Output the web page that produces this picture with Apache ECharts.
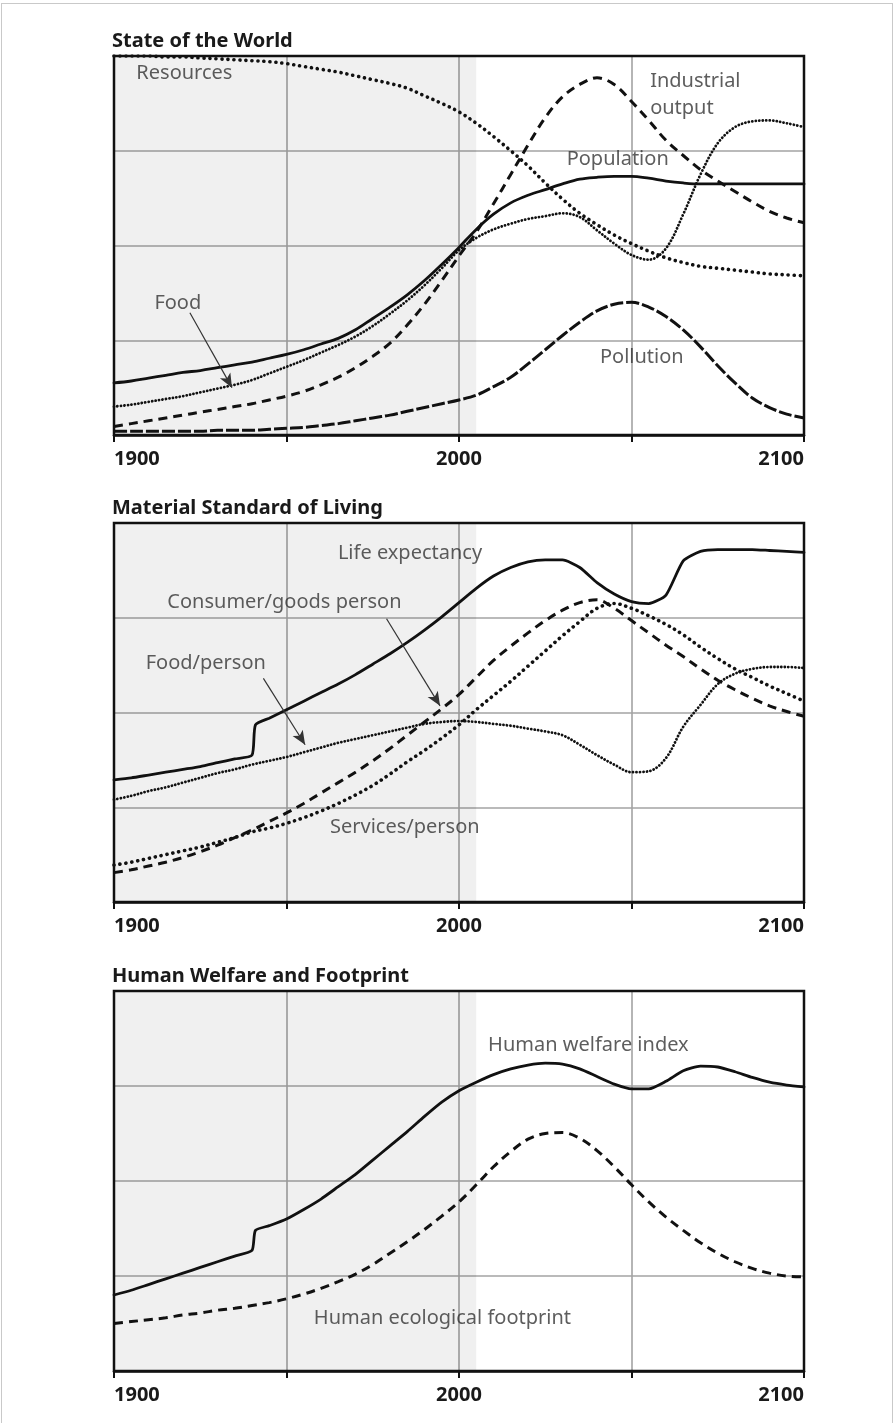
<!DOCTYPE html>
<html><head><meta charset="utf-8">
<script src="https://cdn.jsdelivr.net/npm/echarts@6/dist/echarts.min.js"></script>
<style>
html,body{margin:0;padding:0;background:#fff;}
#frame{position:absolute;left:1px;top:3px;width:892px;height:1422px;border:1px solid #c9c9c9;box-sizing:border-box;}
#chart{position:absolute;left:0;top:0;width:896px;height:1423px;}
</style>
</head><body><div id="frame"></div><div id="chart"></div>
<script>
// x categories (years); 1941 only used by series with a step around 1940
const years = [1900,1905,1910,1915,1920,1925,1930,1935,1940,1941,1945,1950,1955,1960,1965,1970,1975,1980,1985,1990,1995,2000,2005,2010,2015,2020,2025,2030,2035,2040,2045,2050,2055,2060,2065,2070,2075,2080,2085,2090,2095,2100];
const stepYear = 1941;
const tickYears = [1900, 2000, 2100];

// Panel 1: State of the World
const resources  = [4.0,4.0,4.0,3.99,3.99,3.98,3.97,3.96,3.95,3.95,3.94,3.92,3.89,3.86,3.83,3.79,3.75,3.71,3.66,3.58,3.50,3.41,3.29,3.15,3.00,2.84,2.66,2.49,2.34,2.22,2.11,2.02,1.94,1.87,1.82,1.78,1.76,1.74,1.72,1.70,1.69,1.68];
const population = [.55,.57,.60,.63,.66,.68,.71,.74,.77,.78,.81,.85,.90,.96,1.02,1.11,1.23,1.35,1.48,1.63,1.80,1.98,2.17,2.33,2.45,2.53,2.59,2.65,2.70,2.72,2.73,2.73,2.71,2.68,2.66,2.65,2.65,2.65,2.65,2.65,2.65,2.65];
const food       = [.30,.32,.35,.38,.41,.45,.49,.53,.58,.59,.65,.72,.79,.87,.95,1.04,1.15,1.28,1.42,1.58,1.76,1.95,2.08,2.17,2.23,2.28,2.31,2.34,2.30,2.16,2.02,1.90,1.85,1.97,2.33,2.75,3.08,3.25,3.31,3.32,3.29,3.25];
const industrial = [.09,.12,.15,.18,.21,.24,.27,.30,.33,.34,.37,.41,.46,.53,.61,.71,.83,.97,1.16,1.38,1.63,1.89,2.14,2.44,2.75,3.06,3.35,3.57,3.70,3.77,3.70,3.52,3.32,3.11,2.95,2.80,2.68,2.57,2.46,2.36,2.29,2.24];
const pollution  = [.04,.04,.04,.04,.04,.04,.05,.05,.05,.05,.06,.07,.08,.10,.12,.15,.18,.21,.25,.29,.33,.37,.42,.51,.61,.75,.90,1.05,1.19,1.31,1.38,1.40,1.35,1.25,1.11,.93,.73,.55,.39,.29,.22,.18];

// Panel 2: Material Standard of Living
const lifeExpectancy = [1.29,1.31,1.34,1.37,1.40,1.43,1.47,1.51,1.55,1.87,1.94,2.03,2.12,2.21,2.30,2.40,2.51,2.62,2.74,2.87,3.01,3.16,3.31,3.44,3.53,3.59,3.61,3.61,3.53,3.37,3.25,3.17,3.15,3.24,3.60,3.70,3.72,3.72,3.72,3.71,3.70,3.69];
const foodPerson     = [1.08,1.12,1.17,1.21,1.26,1.31,1.36,1.40,1.45,1.46,1.49,1.53,1.58,1.63,1.68,1.72,1.76,1.80,1.84,1.88,1.90,1.91,1.90,1.88,1.86,1.83,1.80,1.76,1.66,1.55,1.45,1.37,1.38,1.52,1.85,2.08,2.30,2.41,2.46,2.48,2.48,2.47];
const consumerGoods  = [.31,.34,.38,.42,.47,.53,.60,.68,.76,.78,.85,.94,1.04,1.15,1.26,1.37,1.49,1.62,1.76,1.90,2.04,2.19,2.37,2.55,2.70,2.84,2.97,3.08,3.16,3.19,3.10,2.97,2.84,2.71,2.59,2.46,2.34,2.24,2.15,2.07,2.01,1.96];
const services       = [.39,.42,.46,.50,.54,.58,.63,.68,.74,.75,.78,.83,.89,.96,1.04,1.13,1.23,1.35,1.48,1.60,1.73,1.87,2.03,2.18,2.33,2.49,2.65,2.81,2.96,3.10,3.15,3.10,3.02,2.93,2.82,2.69,2.57,2.46,2.37,2.28,2.20,2.12];

// Panel 3: Human Welfare and Footprint
const welfare   = [.80,.85,.91,.97,1.03,1.09,1.15,1.21,1.27,1.48,1.53,1.60,1.70,1.81,1.94,2.07,2.22,2.37,2.52,2.68,2.83,2.95,3.04,3.12,3.18,3.22,3.24,3.23,3.18,3.10,3.02,2.97,2.97,3.05,3.16,3.21,3.20,3.15,3.09,3.04,3.01,2.99];
const footprint = [.50,.52,.54,.56,.59,.61,.64,.66,.69,.69,.72,.76,.81,.87,.94,1.02,1.12,1.24,1.36,1.49,1.63,1.78,1.96,2.15,2.31,2.44,2.50,2.51,2.45,2.32,2.15,1.96,1.78,1.62,1.48,1.35,1.24,1.15,1.08,1.03,1.00,.99];

const titles = ['State of the World', 'Material Standard of Living', 'Human Welfare and Footprint'];
const historyEnd = 2005;

// annotation texts (anchored in data coordinates)
const notes = [
  [{t:'Resources', x:1920.4, y:3.82}, {t:'Industrial\noutput', x:2055.4, y:3.59, a:'left'}, {t:'Population', x:2046, y:2.91}, {t:'Food', x:1918.5, y:1.39}, {t:'Pollution', x:2053, y:0.82}],
  [{t:'Life expectancy', x:1985.8, y:3.68}, {t:'Consumer/goods person', x:1949.4, y:3.16}, {t:'Food/person', x:1926.6, y:2.52}, {t:'Services/person', x:1984.3, y:0.79}],
  [{t:'Human welfare index', x:2037.5, y:3.43}, {t:'Human ecological footprint', x:1995.2, y:0.56}]
];
const arrows = [
  [[[1922,1.29],[1934.2,0.50]]],
  [[[1979,2.99],[1994.5,2.07]], [[1943.3,2.36],[1955.4,1.66]]],
  []
];

const FONT = 'Noto Sans';
const gridTops = [56, 523, 991];
const gridHeights = [379, 379, 380];

const solid = {type:'solid', width:2.8, cap:'round'};
const dashed = {type:[9,6], width:3, cap:'butt'};
const longDash = {type:[13,3], width:3, cap:'butt'};
const dotsSparse = {type:[0.1,5.9], width:3.6, cap:'round'};
const dotsDense = {type:[0.1,3.4], width:2.8, cap:'round'};

function line(name, vals, idx, style, hasStep, extra) {
  const pts = [];
  years.forEach((yr,i) => { if (hasStep || yr !== stepYear) pts.push([yr, vals[i]]); });
  return Object.assign({
    type:'line', name, xAxisIndex:idx, yAxisIndex:idx,
    data: pts,
    showSymbol:false, smooth:0.35, silent:true, z:3,
    lineStyle: Object.assign({color:'#111'}, style)
  }, extra||{});
}

const shade = {silent:true, itemStyle:{color:'rgba(0,0,0,0.06)'}, data:[[{xAxis:1900},{xAxis:historyEnd}]]};

const series = [
  line('Resources', resources, 0, dotsSparse, false, {markArea: shade}),
  line('Population', population, 0, solid, false),
  line('Food', food, 0, dotsDense, false),
  line('Industrial output', industrial, 0, dashed, false),
  line('Pollution', pollution, 0, longDash, false),
  line('Life expectancy', lifeExpectancy, 1, solid, true, {markArea: shade, smooth:0.2}),
  line('Food/person', foodPerson, 1, dotsDense, false),
  line('Consumer goods/person', consumerGoods, 1, dashed, false),
  line('Services/person', services, 1, dotsSparse, false),
  line('Human welfare index', welfare, 2, solid, true, {markArea: shade, smooth:0.2}),
  line('Human ecological footprint', footprint, 2, dashed, false)
];

notes.forEach((list, idx) => {
  series.push({
    type:'scatter', xAxisIndex:idx, yAxisIndex:idx, symbolSize:1, silent:true, z:5,
    itemStyle:{color:'rgba(0,0,0,0)'},
    data: list.map(n => ({value:[n.x, n.y], name:n.t, label:{align:n.a||'center'}})),
    label:{show:true, position:'inside', formatter:'{b}', color:'#353535', fontSize:20, fontFamily:FONT, lineHeight:27},
    markLine: {
      silent:true, symbol:['none','arrow'], symbolSize:[9,14], animation:false,
      lineStyle:{color:'#333', width:1.2, type:'solid'}, label:{show:false},
      data: arrows[idx].map(a => [{coord:a[0]}, {coord:a[1]}])
    }
  });
});

const option = {
  animation:false,
  backgroundColor:'transparent',
  title: titles.map((t,i)=>({text:t, left:112, top:gridTops[i]-25, padding:0,
    textStyle:{fontFamily:FONT, fontSize:20, fontWeight:'bold', color:'#1a1a1a'}})),
  grid: gridTops.map((t,i)=>({left:114, width:690, top:t, height:gridHeights[i], show:true,
    borderColor:'#111', borderWidth:2.5, backgroundColor:'transparent', z:4})),
  xAxis: gridTops.map((t,i)=>({
    type:'value', gridIndex:i, min:1900, max:2100, interval:50,
    axisLine:{show:true, lineStyle:{color:'#111', width:2.5}},
    axisTick:{show:true, length:7, lineStyle:{color:'#111', width:2}},
    splitLine:{show:true, showMinLine:false, showMaxLine:false, lineStyle:{color:'#a3a3a3', width:1.6}},
    axisLabel:{show:true, margin:14, fontFamily:FONT, fontSize:20, fontWeight:'bold', color:'#1a1a1a',
      showMinLabel:true, showMaxLabel:true, alignMinLabel:'left', alignMaxLabel:'right',
      formatter: v => tickYears.includes(v) ? String(v) : ''}
  })),
  yAxis: gridTops.map((t,i)=>({
    type:'value', gridIndex:i, min:0, max:4, interval:1,
    axisLine:{show:false}, axisTick:{show:false}, axisLabel:{show:false},
    splitLine:{show:true, showMinLine:false, showMaxLine:false, lineStyle:{color:'#a3a3a3', width:1.6}}
  })),
  series
};

const chart = echarts.init(document.getElementById('chart'), null, {renderer:'canvas'});
chart.setOption(option);
</script>
</body></html>
